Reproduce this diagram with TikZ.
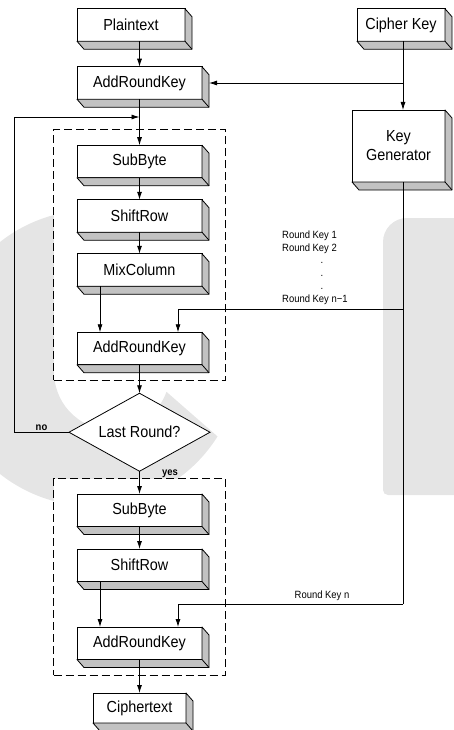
\documentclass[tikz,border=0pt]{standalone}
\usepackage{fontspec}
\setmainfont{Liberation Sans}[FakeStretch=0.9]
\usetikzlibrary{positioning,fit,shapes.geometric,arrows.meta,backgrounds}

\begin{document}
\begin{tikzpicture}[x=1pt,y=-1pt]
    \tikzstyle{blk}=[draw, fill=white, line width=.8pt, minimum width=125pt,
                     minimum height=32.5pt, inner sep=0pt, outer sep=0pt,
                     font=\fontsize{16}{19}\selectfont]
    \tikzstyle{face}=[draw, fill=black!24, line width=.8pt, line join=round]
    \tikzstyle{decide}=[diamond, draw, fill=white, line width=.8pt, aspect=1.8,
                        minimum width=141pt, minimum height=78pt, inner sep=0pt,
                        outer sep=0pt, font=\fontsize{16}{19}\selectfont]
    \tikzstyle{rnd}=[draw, fill=white, line width=.8pt, dash pattern=on 8pt off 4pt,
                     inner xsep=23.5pt, inner ysep=15.5pt]
    \tikzstyle{flow}=[draw, line width=.8pt, -{Latex[length=8pt,width=5pt]}]
    \tikzstyle{rklbl}=[inner sep=1pt, font=\fontsize{10.5}{12.8}\selectfont]
    \tikzstyle{yn}=[inner sep=1pt, font=\fontsize{10.5}{12.8}\selectfont\bfseries]
    \tikzstyle{wmark}=[fill=black!10]
    \useasboundingbox (0,0) rectangle (453,730);

    % Input and first key addition
    \node [blk, minimum width=108pt] (plain) at (131,25) {Plaintext};
    \node [blk] (add0) at (139.5,83) {AddRoundKey};

    % Key schedule
    \node [blk, minimum width=93pt, minimum height=72pt, align=center] (kgen)
          at (398.5,146) {Key\\Generator};
    \node [blk, minimum width=88pt] (ckey) at (401,25) {Cipher Key};

    % Rounds 1 .. n-1
    \node [blk, below=46pt of add0] (sub1) {SubByte};
    \node [blk, below=22pt of sub1] (shift1) {ShiftRow};
    \node [blk, below=21.5pt of shift1] (mix) {MixColumn};
    \node [blk, below=46pt of mix] (add1) {AddRoundKey};
    \node [decide, below=28.5pt of add1] (last) {Last Round?};

    % Final round
    \node [blk, below=22.75pt of last] (sub2) {SubByte};
    \node [blk, below=22.5pt of sub2] (shift2) {ShiftRow};
    \node [blk, below=45.5pt of shift2] (add2) {AddRoundKey};
    \node [blk, minimum width=93pt, minimum height=30pt, below=33.5pt of add2] (ctext) {Ciphertext};

    \coordinate (trunk) at (403,0);
    \coordinate (rk1) at (403,309);
    \coordinate (rkn) at (403,604);
    \coordinate (loop) at (14,117);

    % 3D sides of the boxes
    \foreach \n in {plain,ckey,add0,kgen,sub1,shift1,mix,add1,sub2,shift2,add2,ctext}{
        \draw [face] (\n.north east) -- ([shift={(7,8)}]\n.north east)
            -- ([shift={(7,8)}]\n.south east) -- ([shift={(7,8)}]\n.south west)
            -- (\n.south west) -- (\n.south east) -- cycle;
        \draw [line width=.8pt] (\n.south east) -- ([shift={(7,8)}]\n.south east);
    }

    % Data flow
    \draw [flow] (plain.south -| add0) -- (add0.north);
    \draw [flow] (ckey.south -| trunk) -- (kgen.north -| trunk);
    \draw [flow] (add0.east -| trunk) -- ([xshift=7pt]add0.east);
    \draw [line width=.8pt] (kgen.south -| trunk) -- (rkn);
    \draw [flow] (add0) -- (sub1);
    \draw [flow] (sub1) -- (shift1);
    \draw [flow] (shift1) -- (mix);
    \draw [flow] ([xshift=-39.5pt]mix.south) -- ([xshift=-39.5pt]add1.north);
    \draw [flow] (rk1) -| ([xshift=38.5pt]add1.north);
    \draw [flow] (add1) -- (last);
    \draw [flow] (last.west) -- node [yn, above] {no} (last.west -| loop)
        -- (loop) -- (loop -| add0);
    \draw [flow] (last) -- node [yn, pos=.1, xshift=30.5pt] {yes} (sub2);
    \draw [flow] (sub2) -- (shift2);
    \draw [flow] ([xshift=-39.5pt]shift2.south) -- ([xshift=-39.5pt]add2.north);
    \draw [flow] (rkn) -| node [rklbl, pos=.18, above=2pt] {Round Key n}
        ([xshift=38.5pt]add2.north);
    \draw [flow] (add2) -- (ctext);

    % Round keys
    \node [rklbl, align=left, anchor=north west] (rkeys) at (281,229.5)
          {Round Key 1\\Round Key 2\\\hspace*{38.5pt}.\\\hspace*{38.5pt}.\\\hspace*{38.5pt}.\\Round Key n−1};

    % Watermark and dashed round frames
    \begin{pgfonlayer}{background}
        \fill [wmark] ([shift={(32:148)}]92,358) arc [start angle=32, end angle=300, radius=148]
            -- ([shift={(300:58)}]112,372) arc [start angle=300, end angle=20, radius=58] -- cycle;
        \fill [wmark] (460,218) -- (407,218) arc [start angle=270, end angle=180, radius=24]
            -- (383,490) arc [start angle=180, end angle=90, radius=5] -- (460,495) -- cycle;
        \node [rnd, fit=(sub1)(add1)] (round) {};
        \node [rnd, fit=(sub2)(add2)] (final) {};
    \end{pgfonlayer}
\end{tikzpicture}
\end{document}
